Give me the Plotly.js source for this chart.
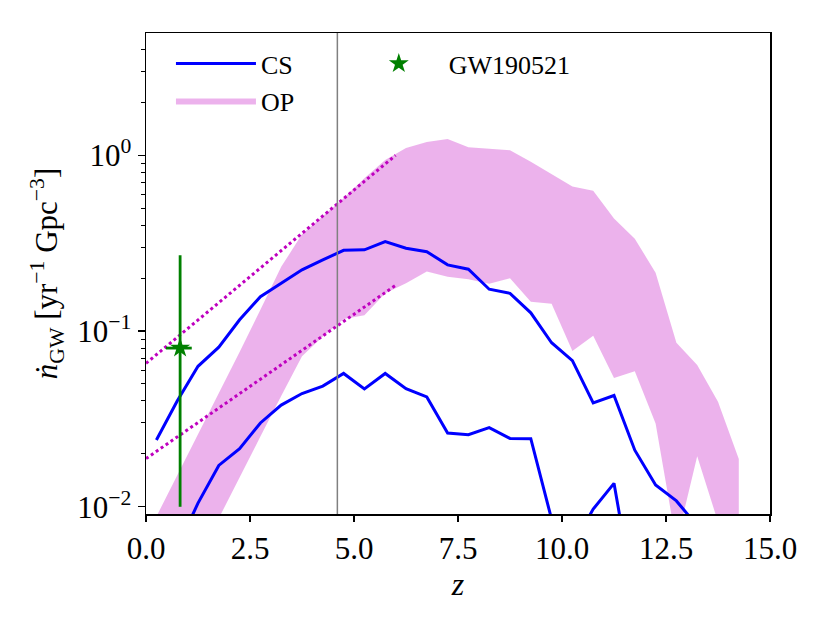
<!DOCTYPE html>
<html>
<head>
<meta charset="utf-8">
<script src="https://cdn.plot.ly/plotly-3.0.1.min.js"></script>
<style>
  html, body { margin: 0; padding: 0; background: #fff; }
  #plot { width: 830px; height: 623px; }
</style>
</head>
<body>
<div id="plot"></div>
<script>
// redshift bin centres
const zBins = [0.25, 0.75, 1.25, 1.75, 2.25, 2.75, 3.25, 3.75, 4.25, 4.75,
               5.25, 5.75, 6.25, 6.75, 7.25, 7.75, 8.25, 8.75, 9.25, 9.75,
               10.25, 10.75, 11.25, 11.75, 12.25, 12.75, 13.25, 13.75, 14.25];

// CS, two curves
const csHigh = [0.024, 0.040, 0.063, 0.081, 0.116, 0.157, 0.187, 0.223, 0.254, 0.288,
                0.290, 0.323, 0.296, 0.283, 0.238, 0.225, 0.173, 0.164, 0.127, 0.0858,
                0.0678, 0.039, 0.043, 0.021, 0.0133, 0.0108, 0.0078, null, null];
const csLow = [null, 0.0058, 0.0105, 0.0172, 0.0214, 0.030, 0.0379, 0.0441, 0.0486, 0.0574,
               0.0469, 0.0574, 0.047, 0.0422, 0.0263, 0.0257, 0.0282, 0.0245, 0.0244, 0.0085,
               0.006, 0.0097, 0.0136, 0.0029, null, null, null, null, null];

// OP band
const opUpper = [0.0088, 0.0151, 0.0257, 0.0437, 0.076, 0.132, 0.232, 0.355, 0.448, 0.57,
                 0.74, 0.94, 1.10, 1.19, 1.24, 1.11, 1.09, 1.07, 0.92, 0.78,
                 0.664, 0.628, 0.437, 0.335, 0.215, 0.0858, 0.064, 0.0396, 0.0187];
const opLower = [0.0018, 0.003, 0.0051, 0.0086, 0.0148, 0.0251, 0.0427, 0.072, 0.093, 0.117,
                 0.123, 0.164, 0.187, 0.218, 0.204, 0.197, 0.186, 0.200, 0.147, 0.143,
                 0.077, 0.094, 0.054, 0.059, 0.0298, 0.0062, 0.0194, 0.0082, 0.002];

// dotted guide lines
const guideZ = [0, 6];
const guideHigh = [0.0655, 1.0];
const guideLow = [0.0188, 0.182];

// GW190521
const gwZ = [0.82];
const gwRate = [0.08];
const gwRateUp = [0.19];
const gwRateDown = [0.07];
const gwZUp = [0.28];
const gwZDown = [0.34];

const zCut = 4.6;

const yTickVals = [0.01, 0.1, 1];
const yTickText = ['10<sup>−2</sup>', '10<sup>−1</sup>', '10<sup>0</sup>'];

const minorVals = [];
for (let p = -3; p <= 0; p++) {
    for (let k = 2; k <= 9; k++) minorVals.push(k * Math.pow(10, p));
}

const serif = 'Liberation Serif, Times New Roman, serif';
const magenta = '#bf00bf';

const data = [
    {
        x: zBins, y: opLower, type: 'scatter', mode: 'lines',
        line: { width: 0, color: 'rgba(191,0,191,0)' },
        showlegend: false, hoverinfo: 'skip'
    },
    {
        x: zBins, y: opUpper, type: 'scatter', mode: 'lines',
        fill: 'tonexty', fillcolor: 'rgba(191,0,191,0.3)',
        line: { width: 0, color: 'rgba(191,0,191,0.3)' },
        name: 'OP', legendrank: 2
    },
    {
        x: zBins, y: csHigh, type: 'scatter', mode: 'lines',
        line: { color: '#0000ff', width: 3 },
        name: 'CS', legendgroup: 'cs', legendrank: 1
    },
    {
        x: zBins, y: csLow, type: 'scatter', mode: 'lines',
        line: { color: '#0000ff', width: 3 },
        name: 'CS', legendgroup: 'cs', showlegend: false
    },
    {
        x: guideZ, y: guideHigh, type: 'scatter', mode: 'lines',
        line: { color: magenta, width: 3, dash: 'dot' },
        showlegend: false
    },
    {
        x: guideZ, y: guideLow, type: 'scatter', mode: 'lines',
        line: { color: magenta, width: 3, dash: 'dot' },
        showlegend: false
    },
    {
        x: gwZ, y: gwRate, type: 'scatter', mode: 'markers',
        marker: { symbol: 'star', size: 15, color: 'green' },
        error_y: { type: 'data', array: gwRateUp, arrayminus: gwRateDown, color: 'green', thickness: 2.8, width: 0 },
        error_x: { type: 'data', array: gwZUp, arrayminus: gwZDown, color: 'green', thickness: 2.8, width: 0 },
        name: 'GW190521', legend: 'legend2'
    }
];

const layout = {
    width: 830,
    height: 623,
    margin: { l: 146, r: 60, t: 33, b: 109 },
    paper_bgcolor: '#fff',
    plot_bgcolor: '#fff',
    font: { family: serif, size: 30, color: '#000' },
    showlegend: true,
    xaxis: {
        range: [0, 15],
        tick0: 0, dtick: 2.5, tickformat: '.1f',
        ticks: 'outside', ticklen: 6, tickwidth: 1.3, tickcolor: '#000',
        showline: true, linecolor: '#000', linewidth: 1.5, mirror: true,
        showgrid: false, zeroline: false,
        tickfont: { family: serif, size: 31 },
        title: { text: '<i>z</i>', font: { family: serif, size: 32 }, standoff: 0 }
    },
    yaxis: {
        type: 'log',
        range: [-2.041, 0.696],
        tickmode: 'array', tickvals: yTickVals, ticktext: yTickText,
        ticks: 'outside', ticklen: 7, tickwidth: 1.3, tickcolor: '#000',
        minor: { tickmode: 'array', tickvals: minorVals, ticks: 'outside', ticklen: 4, tickwidth: 1, tickcolor: '#000', showgrid: false },
        showline: true, linecolor: '#000', linewidth: 1.5, mirror: true,
        showgrid: false, zeroline: false,
        tickfont: { family: serif, size: 31 },
        title: {
            text: '<i>ṅ</i><sub>GW</sub> [yr<sup>−1</sup> Gpc<sup>−3</sup>]',
            font: { family: serif, size: 31 }, standoff: 10
        }
    },
    shapes: [
        {
            type: 'line', xref: 'x', yref: 'paper',
            x0: zCut, x1: zCut, y0: 0, y1: 1,
            line: { color: 'gray', width: 1.5 }, layer: 'above'
        }
    ],
    legend: {
        x: 0.04, y: 0.985, xanchor: 'left', yanchor: 'top',
        bgcolor: 'rgba(255,255,255,0.6)', borderwidth: 0,
        font: { family: serif, size: 26 },
        itemwidth: 80, tracegroupgap: 0
    },
    legend2: {
        x: 0.325, y: 0.985, xanchor: 'left', yanchor: 'top',
        bgcolor: 'rgba(255,255,255,0)', borderwidth: 0,
        font: { family: serif, size: 26 },
        itemwidth: 90
    }
};

Plotly.newPlot('plot', data, layout, { displayModeBar: false, staticPlot: true });
</script>
</body>
</html>
